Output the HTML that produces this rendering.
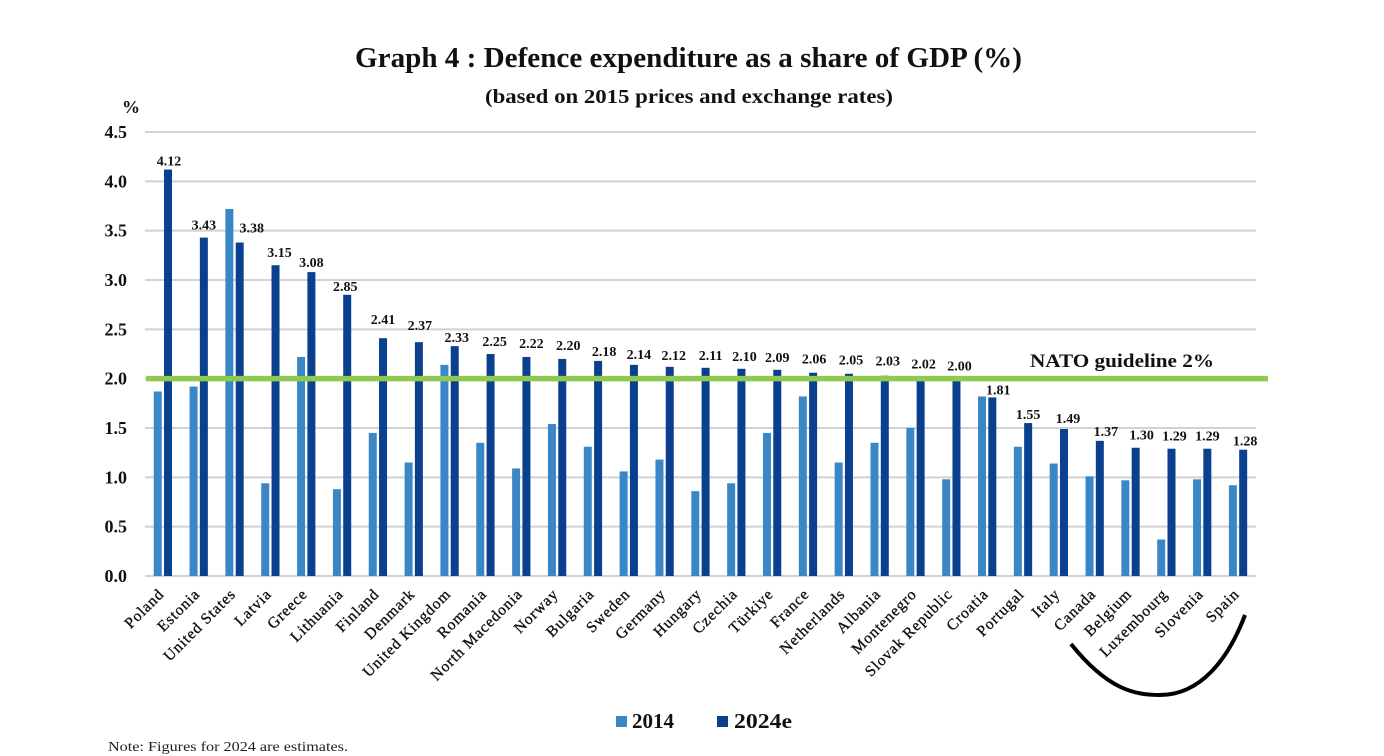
<!DOCTYPE html>
<html lang="en">
<head>
<meta charset="utf-8">
<title>Graph 4: Defence expenditure as a share of GDP</title>
<style>
  html, body { margin: 0; padding: 0; background: #fff; }
  body { width: 1384px; height: 756px; overflow: hidden; }
  svg { display: block; font-family: "Liberation Serif", serif; filter: blur(0.35px); }
  .b { font-weight: bold; fill: #111; }
</style>
</head>
<body>
<svg id="chart" xmlns="http://www.w3.org/2000/svg" width="1384" height="756" viewBox="0 0 1384 756">
  <text class="b" x="355" y="67" font-size="28" textLength="667" lengthAdjust="spacingAndGlyphs">Graph 4 : Defence expenditure as a share of GDP (%)</text>
  <text class="b" x="485" y="103" font-size="20" textLength="408" lengthAdjust="spacingAndGlyphs">(based on 2015 prices and exchange rates)</text>
  <text class="b" x="122" y="113" font-size="18">%</text>
  <g id="grid"></g>
  <g id="yticks"></g>
  <g id="bars"></g>
  <g id="guide"></g>
  <g id="values"></g>
  <g id="xticks"></g>
  <text class="b" x="1030" y="367" font-size="19" textLength="184" lengthAdjust="spacingAndGlyphs">NATO guideline 2%</text>
  <path d="M1071,644 C1108,690 1135,695 1160,695 C1200,695 1228,660 1245,615" fill="none" stroke="#000" stroke-width="4"/>
  <g>
    <rect x="616" y="716" width="11" height="11" fill="#3a87c8"/>
    <text class="b" x="632" y="728" font-size="21" textLength="42" lengthAdjust="spacingAndGlyphs">2014</text>
    <rect x="717" y="716" width="11" height="11" fill="#0b408f"/>
    <text class="b" x="734" y="728" font-size="21" textLength="58" lengthAdjust="spacingAndGlyphs">2024e</text>
  </g>
  <text x="108" y="751" font-size="14" fill="#222" textLength="240" lengthAdjust="spacingAndGlyphs">Note: Figures for 2024 are estimates.</text>
</svg>
<script>
const categories = ["Poland","Estonia","United States","Latvia","Greece","Lithuania","Finland","Denmark","United Kingdom","Romania","North Macedonia","Norway","Bulgaria","Sweden","Germany","Hungary","Czechia","Türkiye","France","Netherlands","Albania","Montenegro","Slovak Republic","Croatia","Portugal","Italy","Canada","Belgium","Luxembourg","Slovenia","Spain"];
const values2014 = [1.87,1.92,3.72,0.94,2.22,0.88,1.45,1.15,2.14,1.35,1.09,1.54,1.31,1.06,1.18,0.86,0.94,1.45,1.82,1.15,1.35,1.50,0.98,1.82,1.31,1.14,1.01,0.97,0.37,0.98,0.92];
const values2024 = [4.12,3.43,3.38,3.15,3.08,2.85,2.41,2.37,2.33,2.25,2.22,2.20,2.18,2.14,2.12,2.11,2.10,2.09,2.06,2.05,2.03,2.02,2.00,1.81,1.55,1.49,1.37,1.30,1.29,1.29,1.28];
const yTickValues = [0,0.5,1,1.5,2,2.5,3,3.5,4,4.5];
const guidelineValue = 2;

// Layout only: hand-placed label nudges from the source chart, in pixels.
const labelNudgeX = [1,0,12,4,0,-2,0,1,2,4,5,6,6,5,4,5,3,0,1,2,3,3,3,6,0,4,6,6,3,0,2];
const labelGap = [4,8,10,8,5,4,14,12,4,8,9,9,5,6,7,8,8,8,9,9,10,8,8,3,4,6,5,8,8,8,4];

const plotLeft = 145, plotRight = 1256, plotTop = 132, plotBottom = 576, yMax = 4.5;
const SVG_NS = "http://www.w3.org/2000/svg";
const band = (plotRight - plotLeft) / categories.length;
function yScale(v) { return plotBottom - (v / yMax) * (plotBottom - plotTop); }
function xCenter(i) { return plotLeft + band * (i + 0.5); }

function make(parentId, tag, attrs, content) {
  const node = document.createElementNS(SVG_NS, tag);
  Object.keys(attrs).forEach(function (k) { node.setAttribute(k, attrs[k]); });
  if (content !== undefined) node.textContent = content;
  document.getElementById(parentId).appendChild(node);
  return node;
}

yTickValues.forEach(function (t) {
  const line = make("grid", "line", { x1: plotLeft, x2: plotRight, y1: yScale(t), y2: yScale(t), stroke: "#d2d2d2", "stroke-width": 2 });
  
  
  const label = make("yticks", "text", { x: 127, y: yScale(t) + 6, "text-anchor": "end", "font-size": 18, class: "b" }, t.toFixed(1));
  
  
});

categories.forEach(function (name, i) {
  const c = xCenter(i);
  const light = make("bars", "rect", { x: c - 9.2, y: yScale(values2014[i]), width: 8, height: plotBottom - yScale(values2014[i]), fill: "#3a87c8" });
  
  
  const dark = make("bars", "rect", { x: c + 1.1, y: yScale(values2024[i]), width: 8, height: plotBottom - yScale(values2024[i]), fill: "#0b408f" });
  
  
  const value = make("values", "text", { x: c + 5.1 + labelNudgeX[i], y: yScale(values2024[i]) - labelGap[i], "text-anchor": "middle", "font-size": 14, class: "b" }, values2024[i].toFixed(2));
  
  
  const ax = c + 2, ay = 595;
  const cat = make("xticks", "text", { x: ax, y: ay, "text-anchor": "end", "font-size": 15.5, "letter-spacing": 0.9, fill: "#111", stroke: "#111", "stroke-width": 0.35, transform: "rotate(-45 " + ax + " " + ay + ")" }, name);
  
  
});

const guide = make("guide", "line", { x1: 146, x2: 1268, y1: yScale(guidelineValue), y2: yScale(guidelineValue), stroke: "#8fc94f", "stroke-width": 5.5 });


</script>
</body>
</html>
